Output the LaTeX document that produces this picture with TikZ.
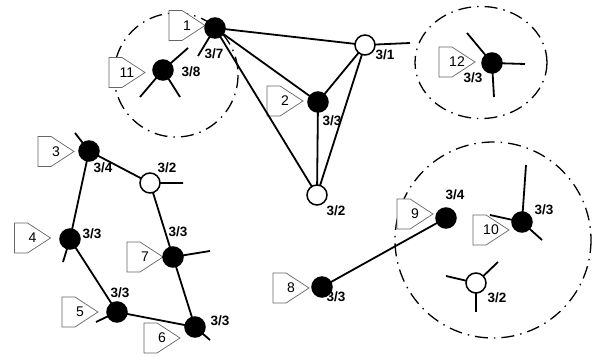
\documentclass[tikz,border=0pt]{standalone}
\usepackage{fontspec}
\setmainfont{Liberation Sans}

\begin{document}
\begin{tikzpicture}[x=1pt,y=-1pt,
				every node/.style={inner sep=0pt,outer sep=0pt},
				busy/.style={circle,minimum size=20pt,draw,line width=1.5pt,fill=black},
				spare/.style={busy,fill=white},
				tag/.style={rectangle,minimum width=36pt,minimum height=30pt,font=\fontsize{14}{14}\selectfont},
				tagline/.style={draw=black!60,fill=white,line width=0.7pt},
				deg/.style={font=\fontsize{13.5}{14}\selectfont\bfseries},
				link/.style={line width=1.8pt},
				zone/.style={line width=1.3pt,dash pattern=on 13pt off 6pt on 1.5pt off 6pt}]
				\useasboundingbox (0,0) rectangle (595,358);
				% zones
				\draw[zone] (176,75) circle (62);
				\draw[zone] (481,62.5) ellipse (66 and 56);
				\draw[zone] (493,240) circle (98);
				% numbers
				\node (T1)  [tag] at (187,25.5)  {};
				\node (T2)  [tag] at (285,101)   {};
				\node (T3)  [tag] at (56,151.5)  {};
				\node (T4)  [tag] at (32.5,238)  {};
				\node (T5)  [tag] at (80,312)    {};
				\node (T6)  [tag] at (162,338)   {};
				\node (T7)  [tag] at (145,257)   {};
				\node (T8)  [tag] at (291,288)   {};
				\node (T9)  [tag] at (415,214)   {};
				\node (T10) [tag] at (491,230)   {};
				\node (T11) [tag] at (127,72.5)  {};
				\node (T12) [tag] at (457,62)    {};
				\foreach \t in {1,...,12}
					\filldraw[tagline] (T\t.north west) -- ([xshift=13pt]T\t.north west) -- (T\t.east)
						-- ([xshift=13pt]T\t.south west) -- (T\t.south west) -- cycle
						(T\t.center) node[font=\fontsize{14}{14}\selectfont] {\t};
				% stations
				\node (N1)  [busy]  at (215,28)  {};
				\node (N2)  [busy]  at (318,102) {};
				\node (N31) [spare] at (365,45)  {};
				\node (N32) [spare] at (317,195) {};
				\node (N11) [busy]  at (163,70)  {};
				\node (N12) [busy]  at (492,63)  {};
				\node (N3)  [busy]  at (89,151)  {};
				\node (N4)  [busy]  at (70,239)  {};
				\node (N5)  [busy]  at (117,312) {};
				\node (N6)  [busy]  at (195,327) {};
				\node (N7)  [busy]  at (173,257) {};
				\node (NL)  [spare] at (150,183) {};
				\node (N8)  [busy]  at (322,287) {};
				\node (N9)  [busy]  at (446,218) {};
				\node (N10) [busy]  at (522,222) {};
				\node (NR)  [spare] at (476,283) {};
				% free ends
				\coordinate (s1)   at (198,56);
				\coordinate (s31)  at (410,43);
				\coordinate (s11a) at (188,48);
				\coordinate (s11b) at (140,97);
				\coordinate (s11c) at (180,97);
				\coordinate (s12a) at (467,33);
				\coordinate (s12b) at (525,64);
				\coordinate (s12c) at (494,97);
				\coordinate (s3)   at (75,133);
				\coordinate (sL)   at (183,183);
				\coordinate (s4)   at (63,262);
				\coordinate (s5)   at (96,322);
				\coordinate (s6)   at (210,340);
				\coordinate (s7)   at (210,251);
				\coordinate (s10a) at (526,165);
				\coordinate (s10b) at (490,215);
				\coordinate (s10c) at (542,240);
				\coordinate (sRa)  at (446,276);
				\coordinate (sRb)  at (498,262);
				\coordinate (sRc)  at (476,312);
				
				\draw[link] (N1) -- (N31) (N1) -- (N2) (N1) -- (N32)
					(N2) -- (N31) (N2) -- (N32) (N31) -- (N32);
				\draw[link] (N3) -- (NL) -- (N7) -- (N6) -- (N5) -- (N4) -- (N3);
				\draw[link] (N8) -- (N9);
				\draw[link] (N1) -- (s1) (N31) -- (s31)
					(N11) -- (s11a) (N11) -- (s11b) (N11) -- (s11c)
					(N12) -- (s12a) (N12) -- (s12b) (N12) -- (s12c)
					(N3) -- (s3) (NL) -- (sL) (N4) -- (s4) (N5) -- (s5) (N6) -- (s6) (N7) -- (s7)
					(N10) -- (s10a) (N10) -- (s10b) (N10) -- (s10c)
					(NR) -- (sRa) (NR) -- (sRb) (NR) -- (sRc);
				% degrees
				\node (D1)  [deg] at (214,54)  {3/7};
				\node (D11) [deg] at (191,72)  {3/8};
				\node (D31) [deg] at (385,55)  {3/1};
				\node (D2)  [deg] at (332,121) {3/3};
				\node (D32) [deg] at (336,211) {3/2};
				\node (D12) [deg] at (473,78)  {3/3};
				\node (D3)  [deg] at (103,168) {3/4};
				\node (DL)  [deg] at (167,168) {3/2};
				\node (D4)  [deg] at (92,234)  {3/3};
				\node (D7)  [deg] at (178,232) {3/3};
				\node (D5)  [deg] at (120,293) {3/3};
				\node (D6)  [deg] at (220,321) {3/3};
				\node (D8)  [deg] at (336,297) {3/3};
				\node (D9)  [deg] at (455,195) {3/4};
				\node (D10) [deg] at (544,210) {3/3};
				\node (DR)  [deg] at (497,298) {3/2};
			\end{tikzpicture}
\end{document}
